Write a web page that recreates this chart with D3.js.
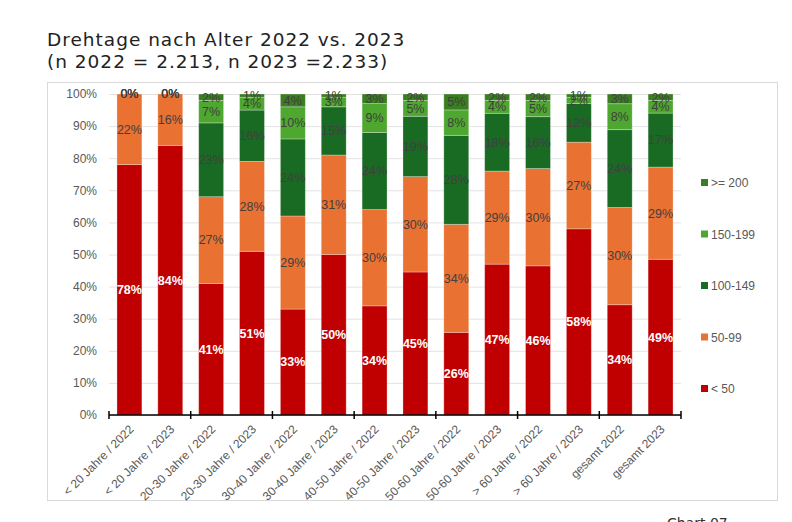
<!DOCTYPE html>
<html>
<head>
<meta charset="utf-8">
<script src="https://cdn.jsdelivr.net/npm/d3@7"></script>
<style>
  body { margin: 0; background: #fff; }
  svg { display: block; }
</style>
</head>
<body>
<div id="chart"></div>
<script>
// Daten aus dem Chart
var categories = ['< 20 Jahre / 2022', '< 20 Jahre / 2023', '20-30 Jahre / 2022', '20-30 Jahre / 2023',
  '30-40 Jahre / 2022', '30-40 Jahre / 2023', '40-50 Jahre / 2022', '40-50 Jahre / 2023',
  '50-60 Jahre / 2022', '50-60 Jahre / 2023', '> 60 Jahre / 2022', '> 60 Jahre / 2023',
  'gesamt 2022', 'gesamt 2023']
var seriesNames = ['< 50', '50-99', '100-149', '150-199', '>= 200']
var under50 = [78, 84, 41, 51, 33, 50, 34, 45, 26, 47, 46, 58, 34, 49]
var from50 = [22, 16, 27, 28, 29, 31, 30, 30, 34, 29, 30, 27, 30, 29]
var from100 = [0, 0, 23, 16, 24, 15, 24, 19, 28, 18, 16, 12, 24, 17]
var from150 = [0, 0, 7, 4, 10, 3, 9, 5, 8, 4, 5, 2, 8, 4]
var from200 = [0, 0, 2, 1, 4, 1, 3, 2, 5, 2, 2, 1, 3, 2]
var yTicks = [0, 0.1, 0.2, 0.3, 0.4, 0.5, 0.6, 0.7, 0.8, 0.9, 1]
var colors = ['#c00000', '#e97132', '#196b24', '#4ea72e', '#3a7d22']

var w = 792, h = 522
var margin = { left: 109, right: 111, top: 94, bottom: 107 }

var rows = categories.map(function(c, i) {
  return { cat: c, '< 50': under50[i], '50-99': from50[i], '100-149': from100[i], '150-199': from150[i], '>= 200': from200[i] }
})

var stacked = d3.stack()
  .keys(seriesNames)
  .offset(d3.stackOffsetExpand)(rows)

var svg = d3.select('#chart')
  .append('svg')
  .attr('width', w)
  .attr('height', h)

// Rahmen
svg.append('rect')
  .attr('x', 47.5).attr('y', 82.5)
  .attr('width', 730).attr('height', 418)
  .attr('fill', 'none')
  .attr('stroke', '#d9d9d9')

// Titel
svg.selectAll('.title')
  .data(['Drehtage nach Alter 2022 vs. 2023', '(n 2022 = 2.213, n 2023 =2.233)'])
  .enter()
  .append('text')
  .attr('x', 47).attr('y', (d, i) => 46 + i * 22)
  .style('font-family', 'DejaVu Sans')
  .style('font-size', '18.5px')
  .style('letter-spacing', '1px')
  .attr('fill', '#222')
  .text(d => d)

var xScale = d3.scaleBand()
  .domain(categories)
  .range([margin.left, w - margin.right])
  .paddingInner(0.39)
  .paddingOuter(0.195)

var yScale = d3.scaleLinear()
  .domain([0, 1])
  .range([h - margin.bottom, margin.top])

// Gitter
var yGrid = d3.axisLeft(yScale)
  .tickValues(yTicks)
  .tickSize(-(w - margin.left - margin.right))
  .tickFormat('')
svg.append('g')
  .attr('transform', `translate(${margin.left},0)`)
  .attr('class', 'grid')
  .call(yGrid)
  .call(g => g.select('.domain').remove())
  .selectAll('line')
  .attr('stroke', '#e3e3e3')

// Y-Achse Beschriftung
svg.append('g')
  .attr('transform', `translate(${margin.left},0)`)
  .call(d3.axisLeft(yScale).tickValues(yTicks).tickSize(0).tickPadding(12).tickFormat(d3.format('.0%')))
  .call(g => g.select('.domain').remove())
  .selectAll('text')
  .style('font-family', 'Liberation Sans')
  .style('font-size', '12px')
  .attr('fill', '#595959')

// Balken
var layers = svg.selectAll('.layer')
  .data(stacked)
  .enter()
  .append('g')
  .attr('class', 'layer')
  .attr('fill', (d, i) => colors[i])

layers.selectAll('rect')
  .data(d => d)
  .enter()
  .append('rect')
  .attr('x', d => xScale(d.data.cat))
  .attr('y', d => yScale(d[1]))
  .attr('width', xScale.bandwidth())
  .attr('height', d => yScale(d[0]) - yScale(d[1]))
  .attr('stroke', '#ffffff')
  .attr('stroke-opacity', 0.35)
  .attr('stroke-width', 0.8)

// Datenbeschriftung
stacked.forEach(function(layer, li) {
  svg.selectAll('.lbl-' + li)
    .data(layer)
    .enter()
    .append('text')
    .attr('class', 'lbl-' + li)
    .attr('x', d => xScale(d.data.cat) + xScale.bandwidth() / 2)
    .attr('y', d => (yScale(d[0]) + yScale(d[1])) / 2)
    .attr('dy', '0.35em')
    .attr('text-anchor', 'middle')
    .style('font-family', 'Liberation Sans')
    .style('font-size', '12.5px')
    .style('font-weight', li === 0 ? 'bold' : 'normal')
    .attr('fill', li === 0 ? '#ffffff' : '#404040')
    .text(d => d.data[layer.key] + '%')
})

// X-Achse
var xAxisG = svg.append('g')
  .attr('transform', `translate(0,${h - margin.bottom})`)
xAxisG.append('line')
  .attr('x1', margin.left).attr('x2', w - margin.right)
  .attr('stroke', '#000').attr('stroke-width', 1.5)
var tickPos = d3.range(0, categories.length + 1, 2).map(i => margin.left + i * xScale.step())
xAxisG.selectAll('.tk')
  .data(tickPos)
  .enter()
  .append('line')
  .attr('x1', d => d).attr('x2', d => d)
  .attr('y1', -4).attr('y2', 4)
  .attr('stroke', '#000').attr('stroke-width', 1.5)

xAxisG.selectAll('.xl')
  .data(categories)
  .enter()
  .append('text')
  .attr('transform', d => `translate(${xScale(d) + xScale.bandwidth() / 2 + 5},${15}) rotate(-45)`)
  .attr('text-anchor', 'end')
  .style('font-family', 'Liberation Sans')
  .style('font-size', '12px')
  .attr('fill', '#595959')
  .text(d => d)

// Legende
var legendY = d3.scalePoint()
  .domain(seriesNames.slice().reverse())
  .range([183, 389])
var legend = svg.selectAll('.legend')
  .data(seriesNames)
  .enter()
  .append('g')
  .attr('transform', d => `translate(701,${legendY(d)})`)
legend.append('rect')
  .attr('x', 0).attr('y', -4)
  .attr('width', 7).attr('height', 7)
  .attr('fill', (d, i) => colors[i])
legend.append('text')
  .attr('x', 10).attr('y', 0)
  .attr('dy', '0.35em')
  .style('font-family', 'Liberation Sans')
  .style('font-size', '12px')
  .attr('fill', '#595959')
  .text(d => d)

svg.append('text')
  .attr('x', 667).attr('y', 528)
  .style('font-family', 'DejaVu Sans')
  .style('font-size', '14px')
  .attr('fill', '#333')
  .text('Chart 07')
</script>
</body>
</html>
